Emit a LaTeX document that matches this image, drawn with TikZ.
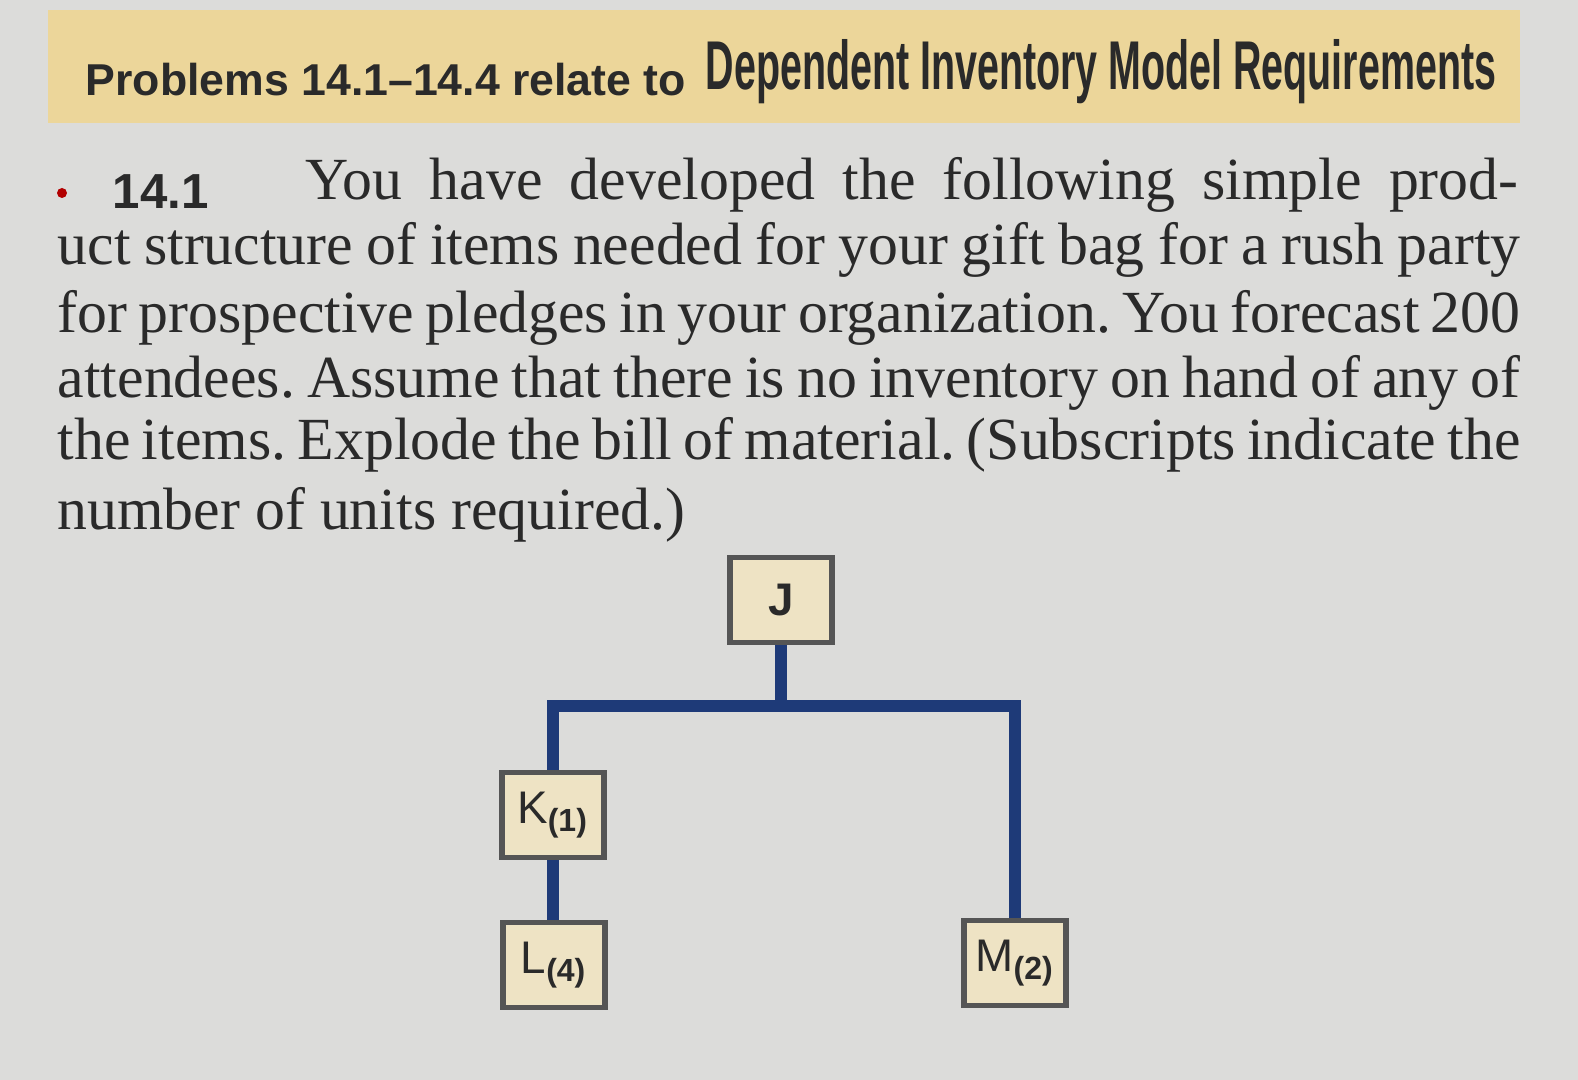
\documentclass[tikz,border=0pt]{standalone}
\usepackage{fontspec}
\setmainfont{Liberation Serif}
\setsansfont{Liberation Sans}
\usepackage{graphicx}
\definecolor{bg}{HTML}{DCDCDA}
\definecolor{band}{HTML}{ECD69A}
\definecolor{boxfill}{HTML}{EEE3C4}
\definecolor{tree}{HTML}{1E3A78}
\definecolor{ink}{HTML}{2A2A2A}
\tikzset{
 part/.style={draw=ink!80,line width=1.5pt,fill=boxfill,minimum width=1.02cm,minimum height=0.85cm,inner sep=0pt,font=\sffamily\fontsize{13}{13}\selectfont,text=ink},
 link/.style={tree,line width=3.5pt},
 txt/.style={anchor=west,inner sep=0pt,text=ink,font=\frenchspacing\fontsize{17}{18}\selectfont}
}
\newcommand{\fullline}[1]{\makebox[14.62cm][s]{#1}}
\begin{document}
\begin{tikzpicture}[x=0.01cm,y=-0.01cm]
\useasboundingbox[fill=bg] (0,0) rectangle (1578,1080);
\fill[band] (48,10) rectangle (1520,123);
\node[anchor=west,inner sep=0pt,text=ink,font=\sffamily\bfseries\fontsize{12}{12}\selectfont] (h1) at (85,80) {\resizebox{6.0cm}{!}{Problems 14.1--14.4 relate to}};
\node[anchor=west,inner sep=0pt,text=ink,font=\sffamily\bfseries] (h2) at (705,72) {\resizebox{7.9cm}{0.5cm}{Dependent Inventory Model Requirements}};
\fill[red!70!black] (62,193) circle (5);
\node[anchor=west,inner sep=0pt,text=ink,font=\sffamily\bfseries\fontsize{14}{14}\selectfont] (num) at (112,192) {14.1};
\node[txt] (l1) at (305,185) {\makebox[12.12cm][s]{You have developed the following simple prod-}};
\node[txt] (l2) at (57,250) {\fullline{uct structure of items needed for your gift bag for a rush party}};
\node[txt] (l3) at (57,318) {\fullline{for prospective pledges in your organization. You forecast 200}};
\node[txt] (l4) at (57,383) {\fullline{attendees. Assume that there is no inventory on hand of any of}};
\node[txt] (l5) at (57,445) {\fullline{the items. Explode the bill of material. (Subscripts indicate the}};
\node[txt] (l6) at (57,515) {number of units required.)};
\node[part] (J) at (781,600) {\textbf{J}};
\node[part] (K) at (553,815) {K\textsubscript{\bfseries(1)}};
\node[part] (L) at (554,965) {L\textsubscript{\bfseries(4)}};
\node[part] (M) at (1015,963) {M\textsubscript{\bfseries(2)}};
\coordinate (bar) at (781,706);
\draw[link] (J.south) -- (bar);
\draw[link] (K.north) |- (bar) -| (M.north);
\draw[link] (K.south) -- (K.south |- L.north);
\end{tikzpicture}
\end{document}
